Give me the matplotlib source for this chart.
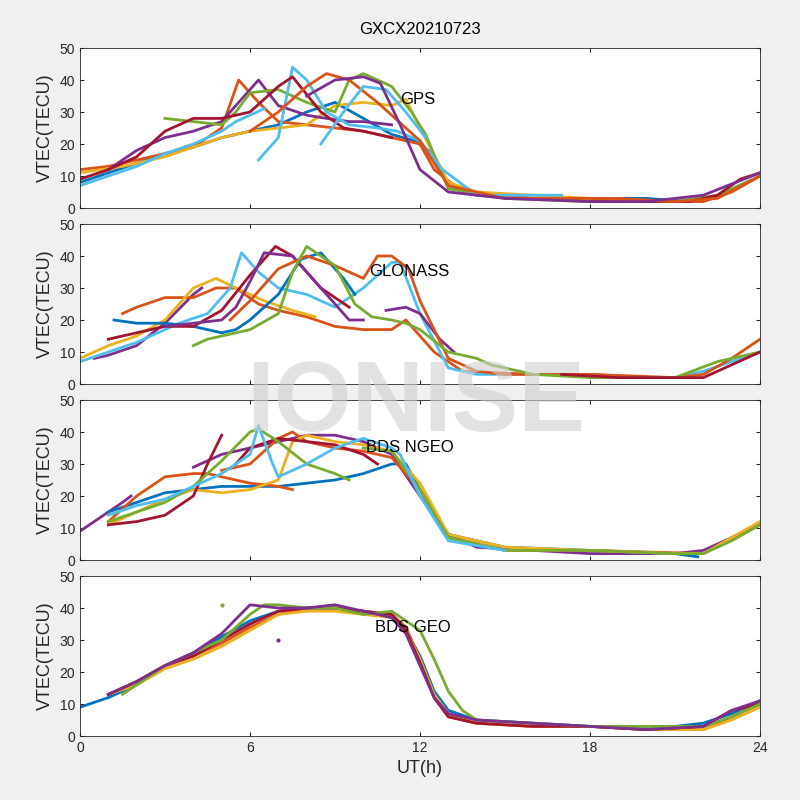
import matplotlib
matplotlib.use("Agg")
import matplotlib.pyplot as plt
plt.rcParams['font.family'] = ['Liberation Sans', 'DejaVu Sans']

C = ['#0072BD', '#D95319', '#EDB120', '#7E2F8E', '#77AC30', '#4DBEEE', '#A2142F']
B, O, Y, P, G, L, R = C

titles = ['GPS', 'GLONASS', 'BDS NGEO', 'BDS GEO']
label_pos = [(11.3, 34), (10.2, 35), (10.1, 35), (10.4, 34)]

gps_arcs = [
    (B, [0,1,2,3,4,5,6,7,8,9,10,11,11.8,12.3,13,14,16,18,20,21.5], [8,11,14,17,19,22,24,26,30,33,28,23,21,18,7,4,3,3,3,2]),
    (O, [0,1,2,3,4,5,5.6,6.3,7,8,9,10,11,12,12.5,13.5,16,19,21,22,23,24], [12,13,15,17,19,25,40,33,27,26,25,24,22,20,12,5,3,3,2,2,5,10]),
    (Y, [0,1.5,3,4,5,6,7,8,8.5,9,10,11,11.5,12,13,14,16,18], [11,13,16,19,22,24,25,26,29,32,33,32,34,25,8,5,4,3]),
    (P, [1,2,3,4,5,6,6.3,7,8,8.7,9.5,10,11], [12,18,22,24,27,37,40,32,29,28,27,27,26]),
    (G, [3,4,5,5.5,6,7,8,9,9.5,10,11,11.7,12.2,13,15,18,21,22.5,24], [28,27,26,30,36,37,33,30,40,42,38,30,23,6,3,2,2,4,10]),
    (L, [6.3,7,7.5,8,8.7,9.5,10.5,11.2,12,12.8,14,16,17], [15,22,44,40,30,26,25,24,21,12,4,4,4]),
    (R, [0,1,2,3,4,5,6,7,7.5,8.5,9.3,10,11], [9,12,16,24,28,28,30,38,41,30,25,24,22]),
    (R, [18,20,21.5,22.5,23.3,24], [2,2,2,4,9,11]),
    (O, [6,7,8,8.7,9.5,10.5,11.5,12,13,15,18,21,22.5,24], [24,30,38,42,40,33,25,21,7,3,3,2,3,10]),
    (L, [0,1,2,3,4,5,5.5,6,6.5], [7,10,13,17,20,24,27,29,31]),
    (L, [8.5,9.3,10,10.8,11.5,12.2], [20,30,38,37,30,22]),
    (P, [8,9,10,10.6,11.3,12,13,15,18,20,22,24], [35,40,41,39,26,12,5,3,2,2,4,11]),
]

glo_arcs = [
    (P, [0.5,1,2,3,4,4.3], [8,9,12,19,28,30]),
    (O, [1.5,2,3,4,4.8,5.5,6.3,7,8,9,10,11,11.5,12.5,13.5,16,18,20], [22,24,27,27,30,30,25,23,21,18,17,17,20,10,4,3,3,2]),
    (Y, [0,1,2,3,4,4.8,5.5,6.5,7.5,8.3], [8,12,15,20,30,33,30,26,23,21]),
    (L, [0,2,3.5,4.5,5.3,5.7,6.3,7,8,9,10,11,11.3,12,13,14,16,18,20,21,22,24], [7,13,19,22,30,41,35,30,28,24,30,38,38,22,5,3,3,3,2,2,4,10]),
    (B, [1.2,2,3,4,5,5.5,6,7,7.8,8.5,9.3,9.7], [20,19,19,18,16,17,20,28,39,41,33,28]),
    (R, [1,2,3,4,5,6,6.9,7.5,8.5,9.5], [14,16,18,18,23,34,43,40,30,24]),
    (P, [3,4,5,5.5,6,6.5,7.5,8.3,9.5,10], [18,19,20,24,32,41,40,32,20,20]),
    (P, [10.8,11.5,12,12.7,13.2], [23,24,22,14,10]),
    (O, [5.3,6,7,8,9,10,10.5,11,11.6,12,13,14,15,18,21,22,23,24], [20,26,36,40,37,33,40,40,36,26,8,4,3,3,2,3,8,14]),
    (G, [4,4.5,5,5.5,6,7,7.5,8,9,9.7,10.3,11,11.5,12,13,14,14.5,16,18,21,22.5,24], [12,14,15,16,17,22,35,43,37,25,21,20,19,17,10,8,6,3,2,2,7,10]),
    (R, [17,19,21,22,23,24], [3,2,2,2,6,10]),
]

bds_arcs = [
    (P, [0,0.5,1,1.5,1.8], [9,12,15,18,20]),
    (P, [4,5,6,7,8,9,10,11,12,13,14,16,18,21,22,24], [29,33,35,37,39,39,37,33,20,8,4,3,2,2,3,11]),
    (B, [1,2,3,4,5,6,7,8,9,10,11,11.5,12,13,15,18,21,21.8], [15,18,21,22,23,23,23,24,25,27,30,30,22,8,4,3,2,1]),
    (O, [1,2,3,4,4.5,5,6,7,7.5], [12,20,26,27,27,26,24,23,22]),
    (O, [5,6,7,7.5,8,9,10,11,12,13,15,18,22,24], [28,30,38,40,37,35,34,32,22,7,3,3,2,11]),
    (Y, [1,2,3,4,5,6,7,7.5,8,9,10,11,12,13,15,18,21,22,24], [11,15,19,22,21,22,25,37,39,37,36,34,24,8,4,3,2,2,12]),
    (R, [1,2,3,4,4.5,5], [11,12,14,20,30,39]),
    (R, [5.5,6,7,8,9,10,10.5], [30,35,38,37,36,33,30]),
    (G, [1,2,3,4,5,6,6.3,7,8,9,9.5], [12,15,18,23,31,40,41,37,30,27,25]),
    (G, [10,11,12,13,15,18,21,22,23,24], [35,34,22,7,3,3,2,2,6,11]),
    (L, [1,2,3,4,5,6,6.3,6.8,7,8,9,10,11,11.3,12,13,15], [14,17,19,23,27,33,42,30,26,30,35,38,35,33,20,6,3]),
]

geo_arcs = [
    (B, [0,1,2,3,4,5,6,7,8,9,10,10.5,11,11.5,12,12.5,13,14,16,18,20,21,22,23,24], [9,12,16,22,26,31,36,39,40,40,39,38,37,33,25,14,8,5,4,3,3,3,4,7,11]),
    (O, [1,2,3,4,5,6,7,8,9,10,11,11.5,12,12.5,13,14,16,18,20,22,23,24], [13,17,22,25,29,34,38,40,40,39,38,34,24,12,6,4,3,3,2,2,6,10]),
    (Y, [1,2,3,4,5,6,7,8,9,10,11,11.5,12,12.5,13,14,16,18,20,22,23,24], [13,16,21,24,28,33,38,39,39,38,37,33,24,13,7,4,3,3,2,2,5,9]),
    (R, [1,2,3,4,5,6,7,8,9,10,11,11.5,12,12.5,13,14,16,18,20,22,23,24], [13,17,22,25,30,35,39,40,40,39,38,33,23,12,6,4,3,3,2,3,8,10]),
    (G, [1.5,3,4,5,6,6.5,7,8,9,10,11,12,12.5,13,13.5,14,16,18,20,22,23,24], [13,22,26,30,38,41,41,40,40,38,39,33,24,14,8,5,4,3,3,3,6,10]),
    (P, [1,2,3,4,5,6,7,8,9,10,11,11.5,12,12.5,13,14,16,18,20,22,23,24], [13,17,22,26,32,41,40,40,41,39,37,32,22,12,7,5,4,3,2,3,8,11]),
]
geo_dots = [(G, 5.0, 41), (P, 7.0, 30)]

panels = [gps_arcs, glo_arcs, bds_arcs, geo_arcs]
bottoms = [0.74, 0.52, 0.30, 0.08]

fig = plt.figure(figsize=(8, 8), dpi=100, facecolor='#f0f0f0')
for i, arcs in enumerate(panels):
    ax = fig.add_axes([0.1, bottoms[i], 0.85, 0.2])
    for c, t, v in arcs:
        ax.plot(t, v, color=c, lw=2)
    if i == 3:
        for c, t, v in geo_dots:
            ax.plot([t], [v], 'o', color=c, ms=2)
    ax.set_xlim(0, 24)
    ax.set_ylim(0, 50)
    ax.set_xticks([0, 6, 12, 18, 24])
    ax.set_yticks([0, 10, 20, 30, 40, 50])
    ax.tick_params(direction='in', labelsize=10, colors='#262626', top=True, right=True, length=3)
    if i < 3:
        ax.set_xticklabels([])
    else:
        ax.set_xlabel('UT(h)', fontsize=13, color='#262626')
    ax.set_ylabel('VTEC(TECU)', fontsize=13, color='#262626')
    ax.text(label_pos[i][0], label_pos[i][1], titles[i], fontsize=12, ha='left', va='center')
    for s in ax.spines.values():
        s.set_color('#262626'); s.set_linewidth(0.6)
    if i == 0:
        ax.set_title('GXCX20210723', fontsize=12, pad=10)

fig.text(0.52, 0.494, 'IONISE', fontsize=72, fontweight='bold', color='#d0d0d0',
         alpha=0.6, ha='center', va='center', zorder=10)
fig.savefig('out.png', dpi=100, facecolor=fig.get_facecolor())
